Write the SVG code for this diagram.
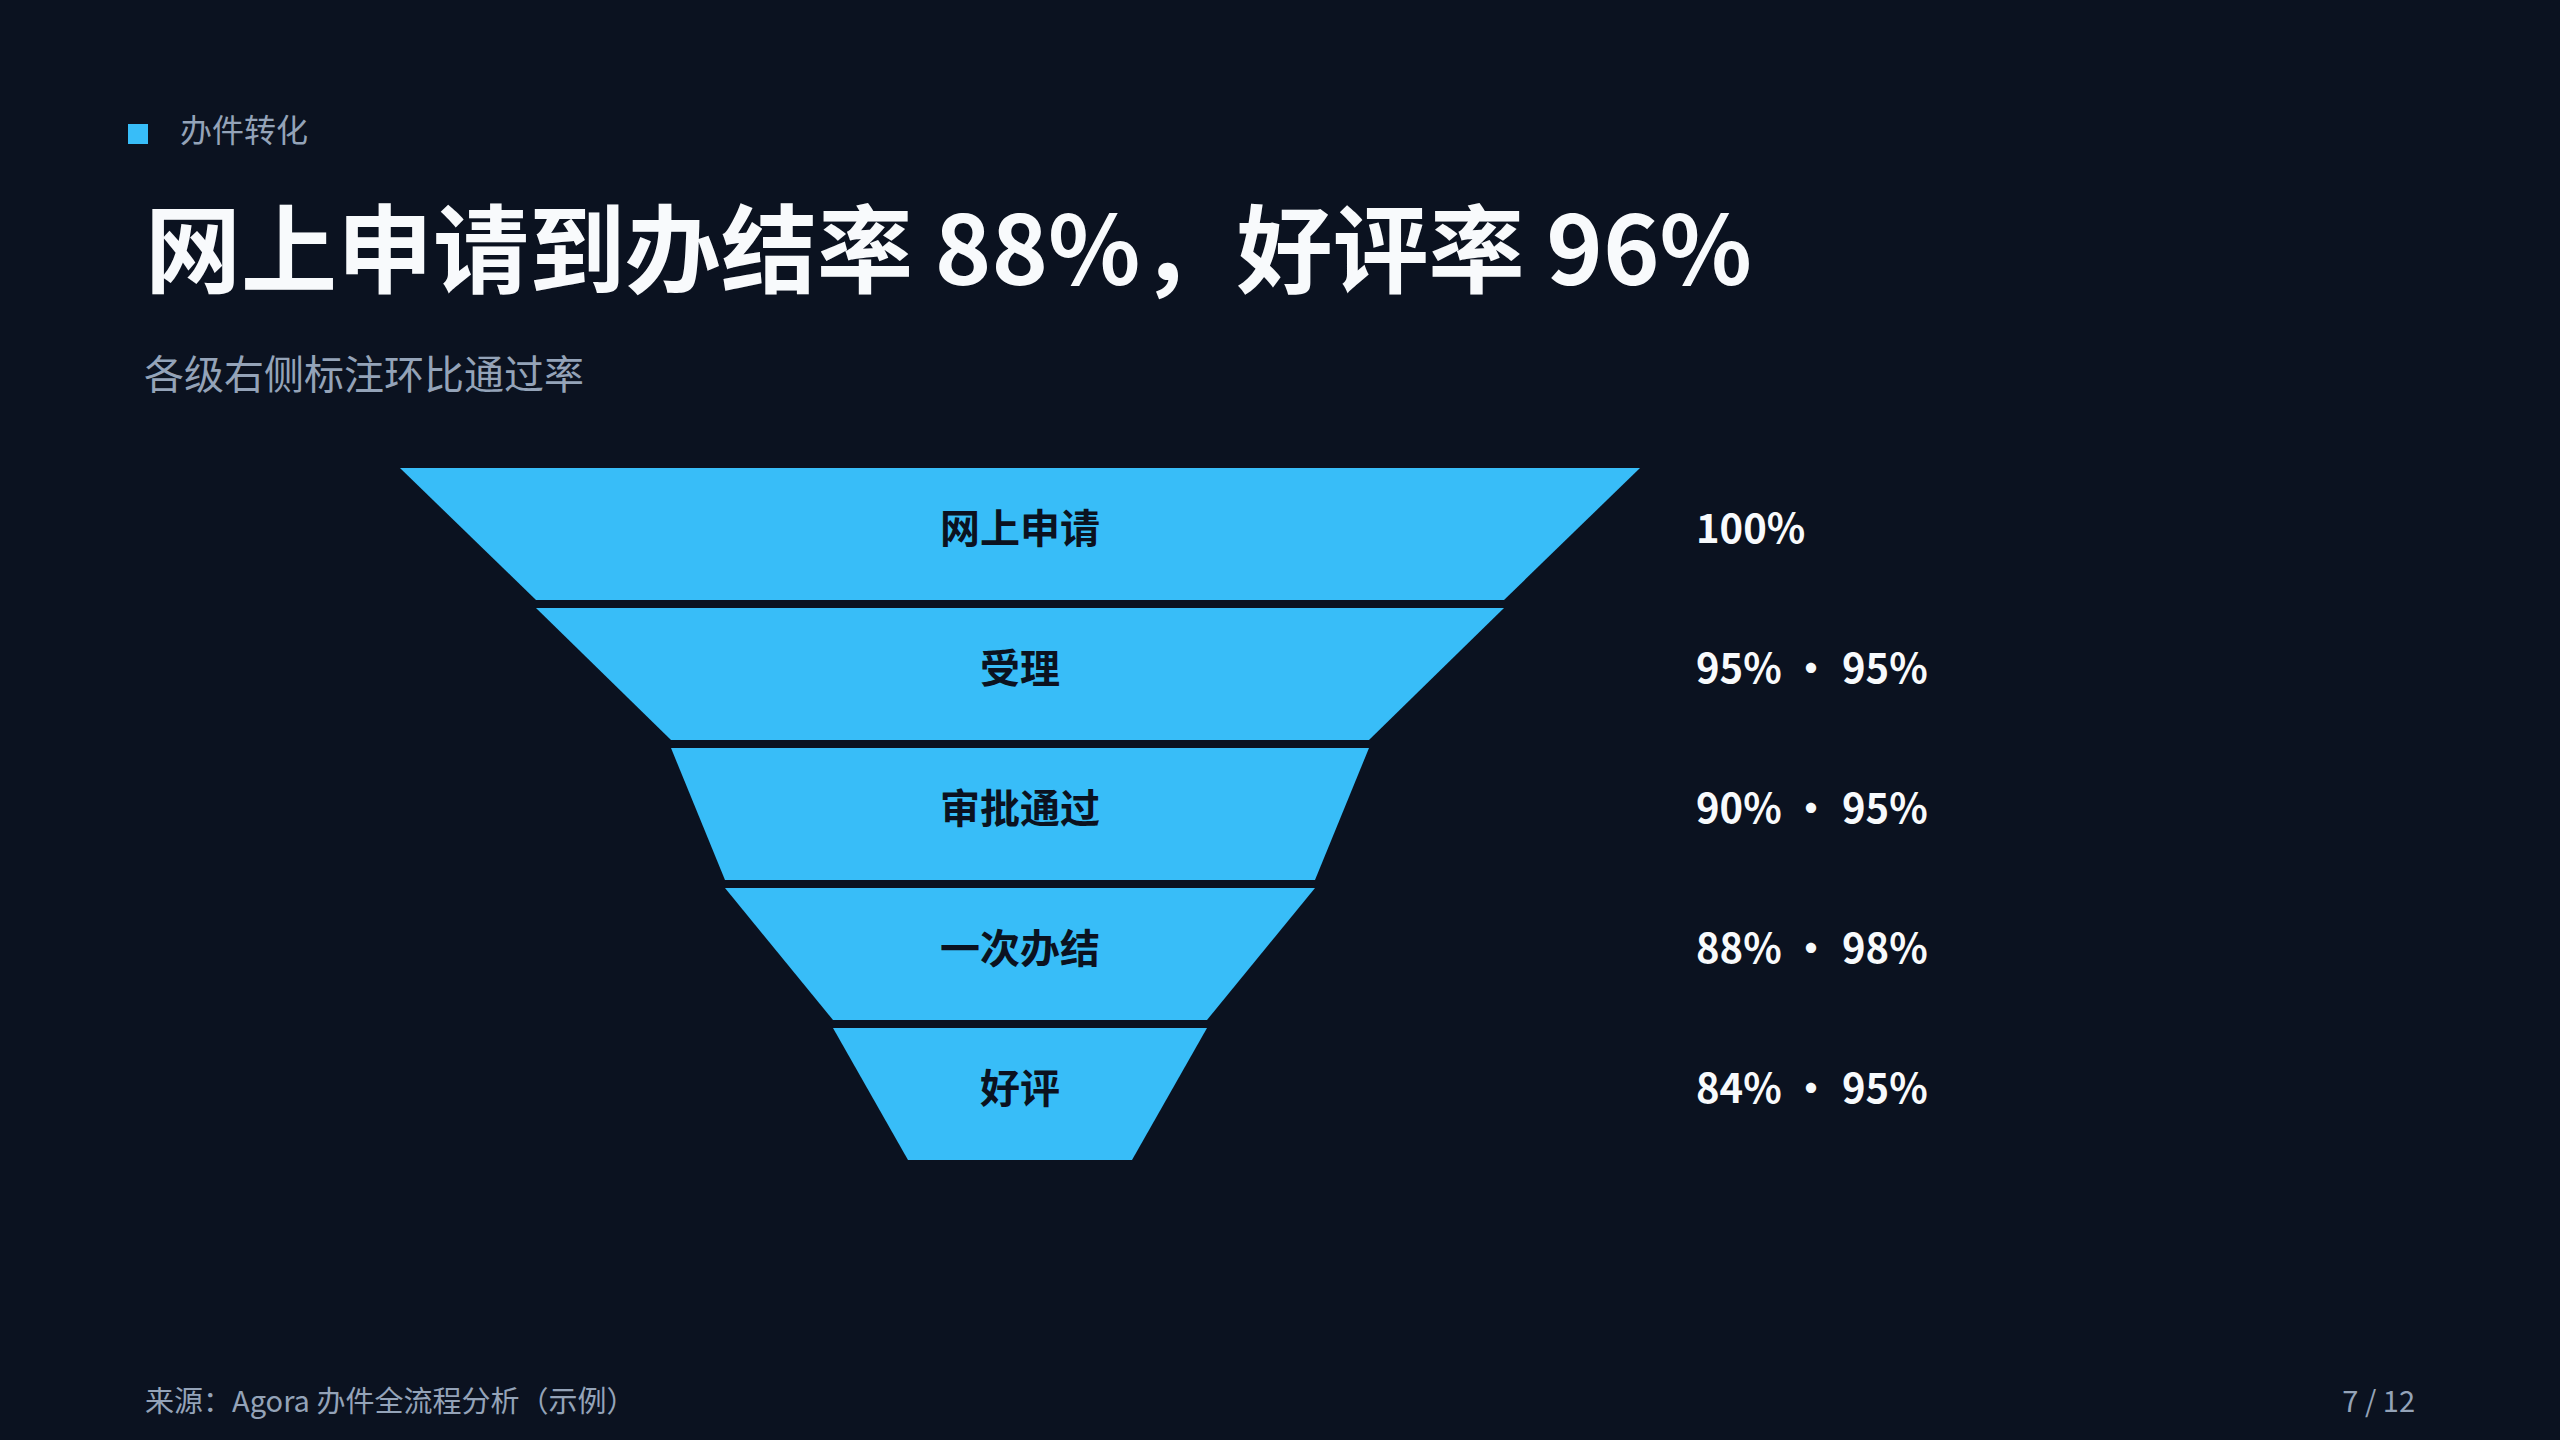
<svg xmlns="http://www.w3.org/2000/svg" width="2560" height="1440" viewBox="0 0 2560 1440">
  <style>
    text { font-family: "Noto Sans CJK SC", "Noto Sans", sans-serif; }
    .bg { fill: #0b1220; }
    .eyebrow { fill: #94a3b8; font-size: 32px; }
    .title { fill: #f8fafc; font-size: 96px; font-weight: 700; }
    .sub { fill: #94a3b8; font-size: 40px; }
    .band { fill: #38bdf8; }
    .blabel { fill: #0b1220; font-size: 40px; font-weight: 700; text-anchor: middle; }
    .rate { fill: #f8fafc; font-size: 40px; font-weight: 700; }
    .foot { fill: #94a3b8; font-size: 29px; }
  </style>
  <rect class="bg" x="0" y="0" width="2560" height="1440"/>

  <g id="header">
    <rect x="128" y="124" width="20" height="20" fill="#38bdf8"/>
    <text class="eyebrow" x="180" y="142">办件转化</text>
    <text class="title" x="145" y="285">网上申请到办结率 88%，好评率 96%</text>
    <text class="sub" x="144" y="389">各级右侧标注环比通过率</text>
  </g>

  <g id="connectors"></g>

  <g id="stage-1">
    <polygon class="band" points="400,468 1640,468 1504,600 536,600"/>
    <text class="blabel" x="1020" y="543">网上申请</text>
    <text class="rate" x="1696" y="543">100%</text>
  </g>
  <g id="stage-2">
    <polygon class="band" points="536,608 1504,608 1369,740 671,740"/>
    <text class="blabel" x="1020" y="683">受理</text>
    <text class="rate" x="1696" y="683">95%<tspan x="1811" text-anchor="middle">·</tspan><tspan x="1842">95%</tspan></text>
  </g>
  <g id="stage-3">
    <polygon class="band" points="671,748 1369,748 1315,880 725,880"/>
    <text class="blabel" x="1020" y="823">审批通过</text>
    <text class="rate" x="1696" y="823">90%<tspan x="1811" text-anchor="middle">·</tspan><tspan x="1842">95%</tspan></text>
  </g>
  <g id="stage-4">
    <polygon class="band" points="725,888 1315,888 1207,1020 833,1020"/>
    <text class="blabel" x="1020" y="963">一次办结</text>
    <text class="rate" x="1696" y="963">88%<tspan x="1811" text-anchor="middle">·</tspan><tspan x="1842">98%</tspan></text>
  </g>
  <g id="stage-5">
    <polygon class="band" points="833,1028 1207,1028 1132,1160 908,1160"/>
    <text class="blabel" x="1020" y="1103">好评</text>
    <text class="rate" x="1696" y="1103">84%<tspan x="1811" text-anchor="middle">·</tspan><tspan x="1842">95%</tspan></text>
  </g>

  <g id="footer">
    <text class="foot" x="145" y="1412">来源：Agora 办件全流程分析（示例）</text>
    <text class="foot" x="2415" y="1412" text-anchor="end">7 / 12</text>
  </g>
</svg>
